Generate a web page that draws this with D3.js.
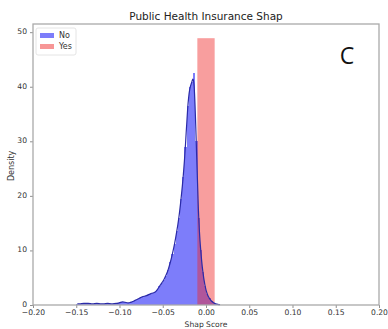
<!DOCTYPE html>
<html>
<head>
<meta charset="utf-8">
<script src="https://cdn.jsdelivr.net/npm/d3@7"></script>
<style>
  body { margin: 0; background: #fff; }
  svg text { font-family: "DejaVu Sans", sans-serif; }
</style>
</head>
<body>
<svg id="chart" width="388" height="329"></svg>
<script>
// bin width of the "No" histogram
const binWidth = 0.0025;
// left edges of "No" bins
const noBinStart = -0.15;
// "No" densities per bin
const noDensity = [
  0.2, 0.2, 0.25, 0.3, 0.3, 0.3, 0.25, 0.2, 0.25, 0.3,
  0.25, 0.2, 0.2, 0.25, 0.3, 0.25, 0.2, 0.25, 0.3, 0.3,
  0.5, 0.6, 0.5, 0.4, 0.4, 0.5, 0.7, 0.9, 1.1, 1.3,
  1.5, 1.6, 1.7, 1.9, 2.1, 2.2, 2.3, 2.8, 3.4, 4.0,
  4.6, 5.4, 6.4, 7.8, 9.4, 11.2, 13.5, 16.0, 19.5, 23.5,
  29.0, 36.5, 40.0, 40.8, 42.5, 30.0, 16.0, 10.0, 6.0, 3.5,
  2.0, 1.2, 0.7, 0.4, 0.2, 0.1, 0.05
];
// "Yes" histogram: one bin
const yesBins = [{ x0: -0.01, x1: 0.01, density: 48.9 }];

const xTicks = [-0.20, -0.15, -0.10, -0.05, 0.00, 0.05, 0.10, 0.15, 0.20];
const yTicks = [0, 10, 20, 30, 40, 50];

const noBins = noDensity.map((d, i) => ({
  x0: noBinStart + i * binWidth,
  x1: noBinStart + (i + 1) * binWidth,
  density: d
}));

const margin = { top: 24, right: 9, bottom: 24, left: 33 };
const width = 388, height = 329;

const x = d3.scaleLinear().domain([-0.2, 0.2]).range([margin.left, width - margin.right]);
const y = d3.scaleLinear().domain([0, 51.5]).range([height - margin.bottom, margin.top]);

const svg = d3.select("#chart");

// blue bars
svg.append("g")
  .selectAll("rect")
  .data(noBins)
  .enter().append("rect")
  .attr("x", d => x(d.x0))
  .attr("y", d => y(d.density))
  .attr("width", d => x(d.x1) - x(d.x0) + 0.3)
  .attr("height", d => y(0) - y(d.density))
  .attr("fill", "rgb(125,125,250)")
  .attr("shape-rendering", "crispEdges");

// red bars
svg.append("g")
  .selectAll("rect")
  .data(yesBins)
  .enter().append("rect")
  .attr("x", d => x(d.x0))
  .attr("y", d => y(d.density))
  .attr("width", d => x(d.x1) - x(d.x0))
  .attr("height", d => y(0) - y(d.density))
  .attr("fill", "rgb(240,40,40)")
  .attr("fill-opacity", 0.45);

// kde line for "No"
const line = d3.line()
  .x(d => x((d.x0 + d.x1) / 2))
  .y(d => y(d.density))
  .curve(d3.curveBasis);

svg.append("path")
  .datum(noBins)
  .attr("d", line)
  .attr("fill", "none")
  .attr("stroke", "#2b2ba8")
  .attr("stroke-width", 1.2);

// axes
const xAxis = svg.append("g")
  .attr("transform", `translate(0,${height - margin.bottom})`)
  .call(d3.axisBottom(x).tickValues(xTicks).tickSize(3)
    .tickFormat(d => d3.format(".2f")(d).replace("-", "\u2212")));
const yAxis = svg.append("g")
  .attr("transform", `translate(${margin.left},0)`)
  .call(d3.axisLeft(y).tickValues(yTicks).tickSize(3).tickFormat(d3.format("d")));

[xAxis, yAxis].forEach(g => {
  g.select(".domain").remove();
  g.selectAll("line").attr("stroke", "#444").attr("stroke-width", 0.6);
  g.selectAll("text").attr("fill", "#333").style("font-size", "7.6px");
});
xAxis.selectAll("text").attr("y", 5);
yAxis.selectAll("text").attr("dy", "0.2em");

// frame
svg.append("rect")
  .attr("x", margin.left)
  .attr("y", margin.top)
  .attr("width", width - margin.left - margin.right)
  .attr("height", height - margin.top - margin.bottom)
  .attr("fill", "none")
  .attr("stroke", "#aaa")
  .attr("stroke-width", 1.3);

// title and labels
svg.append("text")
  .text("Public Health Insurance Shap")
  .attr("x", x(0))
  .attr("y", 20)
  .attr("text-anchor", "middle")
  .attr("fill", "#222")
  .style("font-size", "10.5px");

svg.append("text")
  .text("Shap Score")
  .attr("x", x(0))
  .attr("y", 327)
  .attr("text-anchor", "middle")
  .attr("fill", "#333")
  .style("font-size", "7.6px");

svg.append("text")
  .text("Density")
  .attr("transform", `translate(14,${y(25.5)}) rotate(-90)`)
  .attr("text-anchor", "middle")
  .attr("fill", "#333")
  .style("font-size", "8px");

svg.append("text")
  .text("C")
  .attr("x", 347)
  .attr("y", 64)
  .attr("text-anchor", "middle")
  .attr("fill", "#111")
  .style("font-family", "'Open Sans', sans-serif")
  .style("font-size", "23px");

// legend
const legendItems = [
  { label: "No", color: "rgb(125,125,250)" },
  { label: "Yes", color: "rgb(247,150,150)" }
];
const legend = svg.append("g").attr("transform", "translate(36,28)");
legend.append("rect")
  .attr("width", 40).attr("height", 27)
  .attr("rx", 2)
  .attr("fill", "#fff")
  .attr("stroke", "#ddd")
  .attr("stroke-width", 0.8);
legend.selectAll(".legend.tick")
  .data(legendItems)
  .enter().append("g")
  .attr("class", "legend tick")
  .attr("transform", (d, i) => `translate(4,${5 + i * 11})`)
  .each(function(d) {
    d3.select(this).append("rect")
      .attr("width", 14).attr("height", 5)
      .attr("fill", d.color);
    d3.select(this).append("text")
      .text(d.label)
      .attr("x", 19)
      .attr("y", 5)
      .attr("fill", "#333")
      .style("font-size", "8px");
  });
</script>
</body>
</html>
